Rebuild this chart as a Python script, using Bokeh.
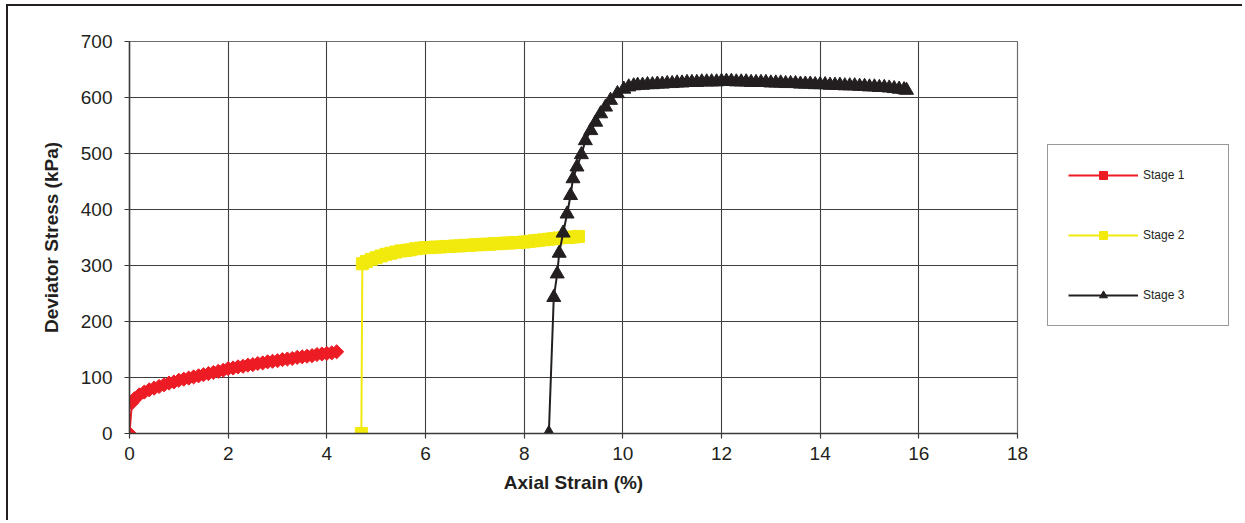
import math
from bokeh.plotting import figure
from bokeh.models import Legend, LegendItem, FixedTicker, Range1d
from bokeh.layouts import row
from bokeh.embed import file_html
from bokeh.resources import INLINE

# ---------------- data ----------------
x_ticks = [0, 2, 4, 6, 8, 10, 12, 14, 16, 18]
y_ticks = [0, 100, 200, 300, 400, 500, 600, 700]

stage1_x = [0.0, 0.05, 0.1, 0.2, 0.3, 0.4, 0.5, 0.6, 0.7, 0.8, 0.9, 1.0,
            1.1, 1.2, 1.3, 1.4, 1.5, 1.6, 1.7, 1.8, 1.9, 2.0,
            2.1, 2.2, 2.3, 2.4, 2.5, 2.6, 2.7, 2.8, 2.9, 3.0,
            3.1, 3.2, 3.3, 3.4, 3.5, 3.6, 3.7, 3.8, 3.9, 4.0, 4.1, 4.2]
stage1_y = [0, 55, 62, 69, 74, 78, 81, 84, 87, 90, 92, 95,
            97, 99, 101, 103, 105, 107, 109, 111, 113, 116,
            117, 119, 120, 122, 123, 125, 126, 128, 129, 130,
            132, 133, 134, 136, 137, 138, 139, 141, 142, 143, 144, 146]

stage2_x = [4.70, 4.72, 4.8, 4.9, 5.0, 5.1, 5.2, 5.3, 5.4, 5.5, 5.6, 5.7, 5.8, 5.9,
            6.0, 6.1, 6.2, 6.3, 6.4, 6.5, 6.6, 6.7, 6.8, 6.9,
            7.0, 7.1, 7.2, 7.3, 7.4, 7.5, 7.6, 7.7, 7.8, 7.9,
            8.0, 8.1, 8.2, 8.3, 8.4, 8.5, 8.6, 8.7, 8.8, 8.9, 9.0, 9.1]
stage2_y = [0, 303, 307, 311, 314, 317, 320, 322, 324, 326, 327, 328, 330, 331,
            332, 332, 333, 333, 334, 334, 335, 335, 336, 336,
            337, 337, 338, 338, 339, 339, 340, 340, 341, 341,
            342, 343, 344, 345, 346, 347, 348, 349, 350, 350, 351, 352]

stage3_x = [8.50, 8.60, 8.67, 8.71, 8.79, 8.87, 8.94, 8.99, 9.07, 9.16, 9.24,
            9.35, 9.45, 9.55, 9.65, 9.75, 9.89, 10.02, 10.12, 10.22,
            10.3, 10.4, 10.5, 10.6, 10.7, 10.8, 10.9,
            11.0, 11.1, 11.2, 11.3, 11.4, 11.5, 11.6, 11.7, 11.8, 11.9,
            12.0, 12.1, 12.2, 12.3, 12.4, 12.5, 12.6, 12.7, 12.8, 12.9,
            13.0, 13.1, 13.2, 13.3, 13.4, 13.5, 13.6, 13.7, 13.8, 13.9,
            14.0, 14.1, 14.2, 14.3, 14.4, 14.5, 14.6, 14.7, 14.8, 14.9,
            15.0, 15.1, 15.2, 15.3, 15.4, 15.5, 15.6, 15.7, 15.75]
stage3_y = [0, 243, 285, 322, 358, 392, 425, 455, 476, 498, 523,
            541, 556, 571, 583, 595, 607, 615, 619, 621,
            622, 622, 623, 623, 624, 624, 625,
            625, 626, 626, 627, 627, 627, 628, 628, 628, 628,
            629, 629, 629, 628, 628, 628, 627, 627, 627, 627,
            626, 626, 626, 625, 625, 625, 624, 624, 624, 623,
            623, 623, 622, 622, 622, 621, 621, 621, 620, 620,
            619, 619, 618, 618, 617, 616, 615, 614, 613]

series_names = ["Stage 1", "Stage 2", "Stage 3"]

# ---------------- styles ----------------
FONT = "Liberation Sans"
TXT = "#231F20"
RED = "#ED1C24"
YEL = "#F2EA0D"
BLK = "#231F20"
H = 514

# (x, y, colour, marker, size, angle)
series = [
    (stage1_x, stage1_y, RED, "square", 10, math.pi / 4),
    (stage2_x, stage2_y, YEL, "square", 12, 0.0),
    (stage3_x, stage3_y, BLK, "triangle", 14, 0.0),
]

p = figure(width=1029, height=H,
           x_range=Range1d(0, 18), y_range=Range1d(0, 700),
           output_backend="svg", toolbar_location=None,
           min_border_left=121, min_border_top=35,
           min_border_bottom=87, min_border_right=20,
           background_fill_color="white", border_fill_color="white")

p.outline_line_color = "#6d6d6d"
p.outline_line_width = 1.2

p.xaxis.ticker = FixedTicker(ticks=x_ticks)
p.yaxis.ticker = FixedTicker(ticks=y_ticks)

for ax in (p.xaxis[0], p.yaxis[0]):
    ax.axis_line_color = "#3a3a3a"
    ax.axis_line_width = 1.5
    ax.major_tick_line_color = "#3a3a3a"
    ax.major_tick_line_width = 1.2
    ax.major_tick_in = 0
    ax.major_tick_out = 5
    ax.minor_tick_line_color = None
    ax.major_label_text_font = FONT
    ax.major_label_text_font_size = "19px"
    ax.major_label_text_color = TXT
    ax.axis_label_text_font = FONT
    ax.axis_label_text_font_size = "19px"
    ax.axis_label_text_font_style = "bold"
    ax.axis_label_text_color = TXT

p.xaxis.axis_label = "Axial Strain (%)"
p.yaxis.axis_label = "Deviator Stress (kPa)"
p.xaxis.major_label_standoff = 8
p.xaxis.axis_label_standoff = 9
p.yaxis.major_label_standoff = 12
p.yaxis.axis_label_standoff = 16

p.grid.grid_line_color = "#3f3f3f"
p.grid.grid_line_width = 1.1
p.xgrid.ticker = FixedTicker(ticks=x_ticks)
p.ygrid.ticker = FixedTicker(ticks=y_ticks)

for sx, sy, col, mk, sz, ang in series:
    p.line(sx, sy, line_color=col, line_width=2)
    p.scatter(sx, sy, marker=mk, size=sz, angle=ang,
              fill_color=col, line_color=col)

# ---------------- legend panel (separate figure; its ranges show no data) ----------------
q = figure(width=205, height=H, x_range=Range1d(-3, -2), y_range=Range1d(-3, -2),
           x_axis_type=None, y_axis_type=None,
           output_backend="svg", toolbar_location=None,
           min_border_left=0, min_border_right=0, min_border_top=0, min_border_bottom=0,
           background_fill_color="white", border_fill_color="white")
q.outline_line_color = None
q.grid.visible = False

items = []
for name, (sx, sy, col, mk, sz, ang) in zip(series_names, series):
    g = q.line(sx, sy, line_color=col, line_width=2)
    m = q.scatter(sx, sy, marker=mk, size=sz, angle=ang,
                  fill_color=col, line_color=col)
    items.append(LegendItem(label=name, renderers=[g, m]))

legend = Legend(items=items, location=(10, 107))
legend.margin = 0
legend.padding = 20
legend.spacing = 40
legend.glyph_width = 70
legend.glyph_height = 20
legend.label_height = 20
legend.label_width = 65
legend.label_standoff = 5
legend.label_text_font = FONT
legend.label_text_font_size = "12px"
legend.label_text_color = TXT
legend.border_line_color = "#333333"
legend.border_line_width = 1.5
legend.background_fill_color = "white"
q.add_layout(legend)

layout = row(p, q, spacing=0)
layout.styles = {"border-top": "2px solid #231F20", "border-left": "2px solid #231F20",
                 "margin-top": "4px", "margin-left": "6px"}

open("out.html", "w").write(file_html(layout, INLINE))
